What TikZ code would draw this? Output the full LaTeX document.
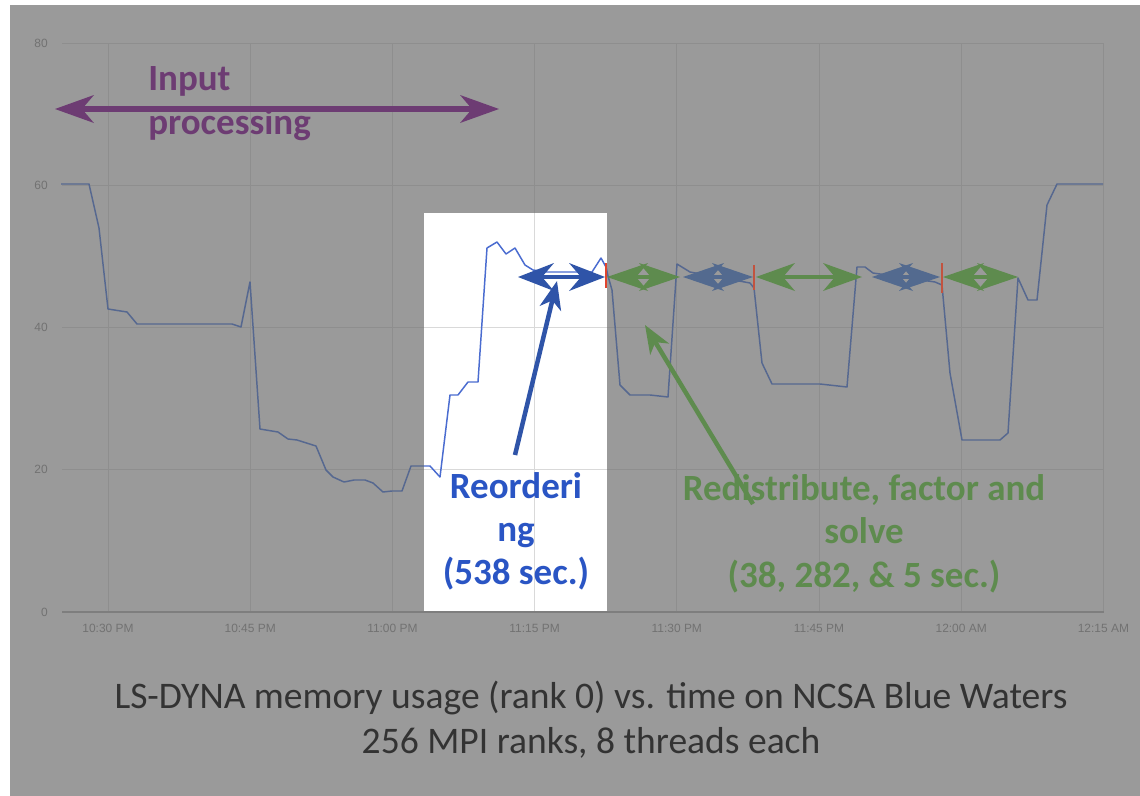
\documentclass[tikz,border=0pt]{standalone}
\usepackage{fontspec}
\setmainfont{Carlito}
\newfontfamily\axisfont{Liberation Sans}
\usetikzlibrary{arrows.meta,calc}

\definecolor{panel}{HTML}{9A9A9A}
\definecolor{gridgray}{HTML}{8E8E8E}
\definecolor{basegray}{HTML}{7E7E7E}
\definecolor{ticktext}{HTML}{727272}
\definecolor{memdim}{HTML}{566890}
\definecolor{membright}{HTML}{4A6CD0}
\definecolor{gridlight}{HTML}{D9D9D9}
\definecolor{inputpurple}{HTML}{6D3C73}
\definecolor{phasegreen}{HTML}{5E8B4E}
\definecolor{phaseblue}{HTML}{536A8F}
\definecolor{reorderblue}{HTML}{2F54A8}
\definecolor{reordertext}{HTML}{2A55C4}
\definecolor{marker}{HTML}{C2533F}
\definecolor{markerbright}{HTML}{E0442E}
\definecolor{captiongray}{HTML}{333333}

% memory trace of rank 0 (x = time, y = memory, drawing units)
\newcommand\memcurve[1]{\draw[#1] (61,184) -- (89,184) -- (99,228) -- (108,309) -- (127,312) -- (137,324) -- (232,324) -- (241,327) -- (250,282) -- (260,429) -- (278,432) -- (288,439) -- (297,440) -- (316,446) -- (326,470) -- (333,477) -- (344,482) -- (354,480) -- (365,480) -- (373,483) -- (383,492) -- (392,491) -- (402,491) -- (411,466) -- (430,466) -- (440,477) -- (450,395) -- (458,395) -- (468,382) -- (478,382) -- (487,248) -- (497,242) -- (506,254) -- (515,248) -- (525,265) -- (533,270) -- (547,272) -- (592,272) -- (601,258) -- (606,267) -- (608,276) -- (612,290) -- (620,385) -- (630,395) -- (650,395) -- (668,397) -- (677,264) -- (690,272) -- (750,283) -- (754,288) -- (762,363) -- (772,384) -- (820,384) -- (847,387) -- (857,267) -- (865,267) -- (873,273) -- (935,282) -- (942,285) -- (950,373) -- (962,440) -- (1000,440) -- (1008,433) -- (1018,278) -- (1028,300) -- (1037,300) -- (1047,205) -- (1057,184) -- (1103,184);}

% double-headed span arrow: #1 colour, #2 left end, #3 right end,
% #4 head length, #5 shaft half-width
\newcommand\spanarrow[5]{%
  \fill[#1] ($(#2)+(#4/2,-#5)$) rectangle ($(#3)+(-#4/2,#5)$);
  \fill[#1] (#2) -- ($(#2)+(#4,-14)$) -- ($(#2)+(#4-12,0)$) -- ($(#2)+(#4,14)$) -- cycle;
  \fill[#1] (#3) -- ($(#3)+(-#4,-14)$) -- ($(#3)+(-#4+12,0)$) -- ($(#3)+(-#4,14)$) -- cycle;
}

\tikzset{
  gridline/.style={gridgray, line width=0.7pt},
  gridlit/.style={gridlight, line width=0.7pt},
  axislabel/.style={ticktext, font=\axisfont\fontsize{8.5}{10}\selectfont, inner sep=0pt},
  bigbold/.style={font=\bfseries\fontsize{26.3}{30}\selectfont, inner sep=0pt, anchor=base},
  pointer/.style={line width=3.2pt, -{Stealth[length=0.7cm,width=0.54cm,inset=0.2cm]}},
  phasemark/.style={line width=2.1pt},
}

\begin{document}
\begin{tikzpicture}[x=0.025cm,y=-0.025cm]
\useasboundingbox (0,0) rectangle (1140,796);
\fill[white] (0,0) rectangle (1140,796);
\fill[panel] (10,5) rectangle (1140,796);

% grid
\foreach \v/\yy in {80/43,60/185.25,40/327.5,20/469.75} {
  \draw[gridline] (62,\yy) -- (1104,\yy);
}
\foreach \xx in {108,250.2,392.4,534.6,676.8,819,961.2,1103.4} {
  \draw[gridline] (\xx,43) -- (\xx,612);
}
\draw[basegray, line width=1.3pt] (62,612) -- (1104,612);

% axis labels
\foreach \v/\yy in {80/43,60/185.25,40/327.5,20/469.75,0/612} {
  \node[axislabel, anchor=east] (ylab\v) at (48,\yy) {\v};
}
\foreach \t/\xx [count=\i] in {10:30 PM/108,10:45 PM/250.2,11:00 PM/392.4,11:15 PM/534.6,11:30 PM/676.8,11:45 PM/819,12:00 AM/961.2,12:15 AM/1103.4} {
  \node[axislabel, anchor=base] (xlab\i) at (\xx,632) {\t};
}

% memory trace
\memcurve{memdim, line width=1.05pt, line join=round}

% highlighted reordering window
\fill[white] (424,213) rectangle (607,611);
\begin{scope}
  \clip (424,213) rectangle (607,611);
  \draw[gridlit] (424,327.5) -- (607,327.5);
  \draw[gridlit] (424,469.75) -- (607,469.75);
  \draw[gridlit] (534.6,213) -- (534.6,611);
  \memcurve{membright, line width=1.05pt, line join=round}
\end{scope}

% input processing span
\coordinate (ip-l) at (55,109);
\coordinate (ip-r) at (499,109);
\spanarrow{inputpurple}{ip-l}{ip-r}{39}{3}
\node[bigbold, inputpurple, anchor=base west] (ip1) at (148,90) {Input};
\node[bigbold, inputpurple, anchor=base west] (ip2) at (148,134) {processing};

% phase spans
\coordinate (ro-l) at (518,277);   \coordinate (ro-r) at (605,277);
\coordinate (g1-l) at (607,277);   \coordinate (g1-r) at (680,277);
\coordinate (b1-l) at (683,277);   \coordinate (b1-r) at (753,277);
\coordinate (g2-l) at (756,277);   \coordinate (g2-r) at (862,277);
\coordinate (b2-l) at (872,277);   \coordinate (b2-r) at (940,277);
\coordinate (g3-l) at (943,277);   \coordinate (g3-r) at (1018,277);
\spanarrow{reorderblue}{ro-l}{ro-r}{36}{2.2}
\spanarrow{phasegreen}{g1-l}{g1-r}{41}{2.2}
\spanarrow{phaseblue}{b1-l}{b1-r}{41}{2.2}
\spanarrow{phasegreen}{g2-l}{g2-r}{39}{2.2}
\spanarrow{phaseblue}{b2-l}{b2-r}{41}{2.2}
\spanarrow{phasegreen}{g3-l}{g3-r}{41}{2.2}

% phase boundaries
\draw[phasemark, markerbright] (606,263) -- (606,288);
\draw[phasemark, marker] (754,265) -- (754,290);
\draw[phasemark, marker] (942,263) -- (942,293);

% labels
\node[bigbold, reordertext] (ro1) at (516,498) {Reorderi};
\node[bigbold, reordertext] (ro2) at (516,541) {ng};
\node[bigbold, reordertext] (ro3) at (516,584) {(538 sec.)};
\node[bigbold, phasegreen] (rd1) at (864,500) {Redistribute, factor and};
\node[bigbold, phasegreen] (rd2) at (864,543) {solve};
\node[bigbold, phasegreen] (rd3) at (864,587) {(38, 282, \& 5 sec.)};

% pointers
\coordinate (ro-tail) at (515,455);
\coordinate (ro-tip) at (557,281);
\coordinate (rd-tail) at (753,504);
\coordinate (rd-tip) at (645,325);
\draw[pointer, reorderblue] (ro-tail) -- (ro-tip);
\draw[pointer, phasegreen] (rd-tail) -- (rd-tip);

% caption
\node[captiongray, font=\fontsize{26.7}{32}\selectfont, anchor=base, inner sep=0pt] (cap1) at (591,708) {LS-DYNA memory usage (rank 0) vs. time on NCSA Blue Waters};
\node[captiongray, font=\fontsize{26.7}{32}\selectfont, anchor=base, inner sep=0pt] (cap2) at (591,753) {256 MPI ranks, 8 threads each};
\end{tikzpicture}
\end{document}
